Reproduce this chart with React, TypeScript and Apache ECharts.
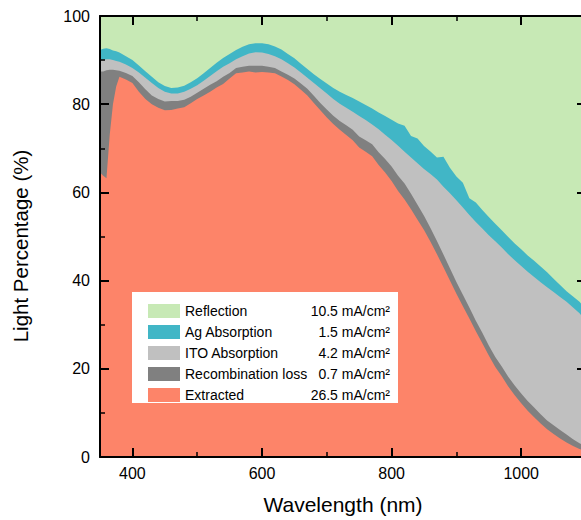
import React, { useEffect, useRef } from "react";
import * as echarts from "echarts";

// Wavelength grid (nm)
const wavelength = [
  350, 355, 360, 365, 370, 375, 380, 390, 400, 410, 420, 430, 440, 450, 460, 470, 480, 490, 500,
  510, 520, 530, 540, 550, 560, 570, 580, 590, 600, 610, 620, 630, 640, 650, 660, 670, 680, 690,
  700, 710, 720, 730, 740, 750, 760, 770, 780, 790, 800, 810, 820, 830, 840, 850, 860, 870, 880,
  890, 900, 910, 920, 930, 940, 950, 960, 970, 980, 990, 1000, 1010, 1020, 1030, 1040, 1050, 1060,
  1070, 1080, 1090, 1100,
];

// Share of incident light (%) going into each channel
const extracted = [
  64.5, 63.8, 63.2, 73.0, 80.0, 84.0, 86.2, 85.6, 84.8, 82.8, 81.2, 80.0, 79.2, 78.6, 78.7, 79.0, 79.3, 80.2, 81.2,
  82.0, 82.8, 83.8, 84.6, 85.8, 87.0, 87.2, 87.4, 87.2, 87.3, 87.2, 87.0, 86.3, 85.5, 84.5, 83.3, 82.0, 80.3, 78.6,
  77.0, 75.5, 74.2, 73.0, 71.8, 70.2, 69.2, 68.2, 66.2, 64.5, 62.6, 60.3, 58.4, 56.2, 53.8, 51.5, 48.8, 46.0, 43.0,
  40.0, 37.0, 34.2, 31.4, 28.5, 25.8, 23.0, 20.4, 18.3, 16.0, 14.0, 12.2, 10.5, 9.0, 7.6, 6.3, 5.2, 4.2,
  3.3, 2.5, 1.8, 1.4,
];
const recombination = [
  22.9, 23.6, 24.5, 14.8, 7.8, 3.7, 1.4, 1.5, 1.6, 2.2, 2.2, 2.0, 2.0, 2.0, 2.0, 1.7, 1.7, 1.5, 1.4,
  1.5, 1.6, 1.4, 1.6, 1.3, 1.2, 1.3, 1.3, 1.5, 1.4, 1.3, 1.2, 1.1, 1.2, 1.3, 1.4, 1.5, 1.6, 1.7,
  1.8, 1.9, 2.0, 2.2, 2.4, 2.5, 2.6, 2.7, 2.9, 3.1, 3.3, 3.5, 3.6, 3.5, 3.4, 3.2, 3.1, 3.0, 2.9,
  2.8, 2.7, 2.6, 2.5, 2.4, 2.4, 2.3, 2.3, 2.2, 2.2, 2.2, 2.2, 2.2, 2.2, 2.1, 2.0, 2.0, 1.9,
  1.8, 1.5, 1.3, 1.1,
];
const itoAbsorption = [
  2.6, 2.7, 2.5, 2.4, 2.2, 2.1, 2.0, 1.9, 1.8, 2.2, 2.6, 2.8, 2.5, 2.2, 1.7, 1.7, 1.8, 1.8, 1.7,
  1.8, 2.0, 2.3, 2.3, 2.2, 2.0, 2.4, 2.8, 3.1, 3.0, 2.9, 2.7, 2.8, 2.6, 2.5, 2.5, 2.5, 2.9, 3.3,
  3.6, 3.8, 3.9, 4.0, 4.1, 4.6, 4.6, 4.5, 5.2, 5.5, 6.0, 6.8, 7.2, 8.2, 9.4, 10.6, 12.3, 13.9, 15.4,
  17.0, 18.5, 19.8, 21.0, 22.4, 23.6, 25.0, 26.2, 27.0, 27.8, 28.4, 28.9, 29.3, 29.6, 29.9, 30.2, 30.2, 30.2,
  30.1, 29.9, 29.5, 28.4,
];
const agAbsorption = [
  2.3, 2.5, 2.5, 2.3, 2.2, 2.2, 2.1, 1.9, 1.8, 1.6, 1.5, 1.4, 1.3, 1.3, 1.3, 1.4, 1.4, 1.5, 1.6,
  1.7, 1.8, 1.9, 2.0, 2.1, 2.1, 2.1, 2.1, 2.0, 2.1, 2.2, 2.2, 2.2, 2.1, 2.1, 2.0, 2.0, 2.0, 2.1,
  2.3, 2.5, 2.7, 2.9, 3.1, 3.3, 3.4, 3.6, 3.8, 4.2, 4.6, 5.0, 5.9, 4.9, 5.6, 5.2, 5.1, 5.0, 6.8,
  5.8, 5.4, 5.6, 3.8, 4.4, 4.2, 4.1, 4.0, 3.9, 3.9, 3.8, 3.8, 3.7, 3.7, 3.6, 3.4, 3.0, 2.7,
  2.4, 2.5, 2.6, 2.6,
];
const reflection = [
  7.7, 7.4, 7.3, 7.5, 7.8, 8.0, 8.3, 9.1, 10.0, 11.2, 12.5, 13.8, 15.0, 15.9, 16.3, 16.2, 15.8, 15.0, 14.1,
  13.0, 11.8, 10.6, 9.5, 8.6, 7.7, 7.0, 6.4, 6.2, 6.2, 6.4, 6.9, 7.6, 8.6, 9.6, 10.8, 12.0, 13.2, 14.3,
  15.3, 16.3, 17.2, 17.9, 18.6, 19.4, 20.2, 21.0, 21.9, 22.7, 23.5, 24.4, 24.9, 27.2, 27.8, 29.5, 30.7, 32.1, 31.9,
  34.4, 36.4, 37.8, 41.3, 42.3, 44.0, 45.6, 47.1, 48.6, 50.1, 51.6, 52.9, 54.3, 55.5, 56.8, 58.1, 59.6, 61.0,
  62.4, 63.6, 64.8, 66.5,
];

// Legend entries (top of the stack first) and their integrated current densities
const channelNames = ["Reflection", "Ag Absorption", "ITO Absorption", "Recombination loss", "Extracted"];
const channelCurrents = ["10.5", "1.5", "4.2", "0.7", "26.5"];
const channelColors = ["#c7e9b5", "#41b6c6", "#c0c0c0", "#808080", "#fd8469"];

const xMajorTicks = [400, 600, 800, 1000];
const xMinorTicks = [500, 700, 900];

const FONT = "'Liberation Sans', Arial, sans-serif";

export default function App() {
  const ref = useRef<HTMLDivElement>(null);

  useEffect(() => {
    if (!ref.current) return;
    const chart = echarts.init(ref.current, null, { renderer: "svg" });

    // Stack bottom-up: extracted, recombination, ITO, Ag, reflection
    const layers = [extracted, recombination, itoAbsorption, agAbsorption, reflection];
    const cumulative: number[][] = [];
    layers.forEach((layer, li) => {
      cumulative.push(
        layer.map((v, i) => +((li > 0 ? cumulative[li - 1][i] : 0) + v).toFixed(2))
      );
    });
    // Draw the tallest envelope first so lower layers paint over it
    const drawOrder = [4, 3, 2, 1, 0];
    const series = drawOrder.map((li, k) => ({
      name: channelNames[k],
      type: "line",
      xAxisIndex: 0,
      yAxisIndex: 0,
      symbol: "none",
      silent: true,
      color: channelColors[k],
      itemStyle: { color: channelColors[k] },
      lineStyle: { width: 0 },
      areaStyle: { color: channelColors[k], opacity: 1, origin: "start" },
      data: wavelength.map((w, i) => [w, cumulative[li][i]]),
    }));

    const axisLineStyle = { color: "#000", width: 2 };
    const xBase = {
      type: "value",
      min: 350,
      max: 1100,
      gridIndex: 0,
      z: 10,
      splitLine: { show: false },
    };
    const yBase = {
      type: "value",
      min: 0,
      max: 100,
      interval: 20,
      gridIndex: 0,
      z: 10,
      splitLine: { show: false },
      axisLine: { show: true, onZero: false, lineStyle: axisLineStyle },
      axisTick: { show: true, inside: true, length: 9, lineStyle: { color: "#000", width: 2 } },
      minorTick: { show: true, splitNumber: 2, length: 5, lineStyle: { color: "#000", width: 1.5 } },
      minorSplitLine: { show: false },
    };
    const majorX = (position: string) => ({
      ...xBase,
      position,
      axisLine: { show: true, onZero: false, lineStyle: axisLineStyle },
      axisTick: {
        show: true,
        inside: true,
        length: 9,
        customValues: xMajorTicks,
        lineStyle: { color: "#000", width: 2 },
      },
    });
    const minorX = (position: string) => ({
      ...xBase,
      position,
      axisLine: { show: false, onZero: false },
      axisLabel: { show: false },
      axisTick: {
        show: true,
        inside: true,
        length: 5,
        customValues: xMinorTicks,
        lineStyle: { color: "#000", width: 1.5 },
      },
    });

    chart.setOption({
      animation: false,
      grid: { left: 100, top: 16, width: 486, height: 441 },
      xAxis: [
        {
          ...majorX("bottom"),
          axisLabel: {
            customValues: xMajorTicks,
            formatter: (v: number) => String(v),
            fontSize: 16,
            color: "#000",
            fontFamily: FONT,
            margin: 8,
          },
          name: "Wavelength (nm)",
          nameLocation: "middle",
          nameGap: 37,
          nameTextStyle: { fontSize: 21, color: "#000", fontFamily: FONT },
        },
        minorX("bottom"),
        { ...majorX("top"), axisLabel: { show: false } },
        minorX("top"),
      ],
      yAxis: [
        {
          ...yBase,
          position: "left",
          axisLabel: { fontSize: 16, color: "#000", fontFamily: FONT, margin: 10 },
        },
        { ...yBase, position: "right", axisLabel: { show: false } },
      ],
      legend: {
        left: 132,
        top: 292,
        z: 20,
        orient: "vertical",
        backgroundColor: "#fff",
        padding: [12, 8, 1, 16],
        itemGap: 7,
        itemWidth: 32,
        itemHeight: 14,
        icon: "rect",
        selectedMode: false,
        data: channelNames.map((n, k) => ({ name: n, itemStyle: { color: channelColors[k] } })),
        formatter: (name: string) => {
          const k = channelNames.indexOf(name);
          return `{n|${name}}{v|${channelCurrents[k]} mA/cm²}`;
        },
        textStyle: {
          fontFamily: FONT,
          fontSize: 14,
          color: "#000",
          rich: {
            n: { width: 124, fontSize: 14, lineHeight: 16, fontFamily: FONT, color: "#000" },
            v: { width: 81, align: "right", fontSize: 14, lineHeight: 16, fontFamily: FONT, color: "#000" },
          },
        },
      },
      graphic: [
        {
          type: "text",
          x: 20,
          y: 246,
          rotation: Math.PI / 2,
          style: {
            text: "Light Percentage (%)",
            fontSize: 20.5,
            fontFamily: FONT,
            fill: "#000",
            align: "center",
            verticalAlign: "middle",
          },
        },
      ],
      series,
    });

    return () => chart.dispose();
  }, []);

  return (
    <div
      style={{
        position: "fixed",
        left: 0,
        top: 0,
        width: 581,
        height: 520,
        overflow: "hidden",
        background: "#fff",
      }}
    >
      <div ref={ref} style={{ width: 600, height: 520 }} />
    </div>
  );
}
